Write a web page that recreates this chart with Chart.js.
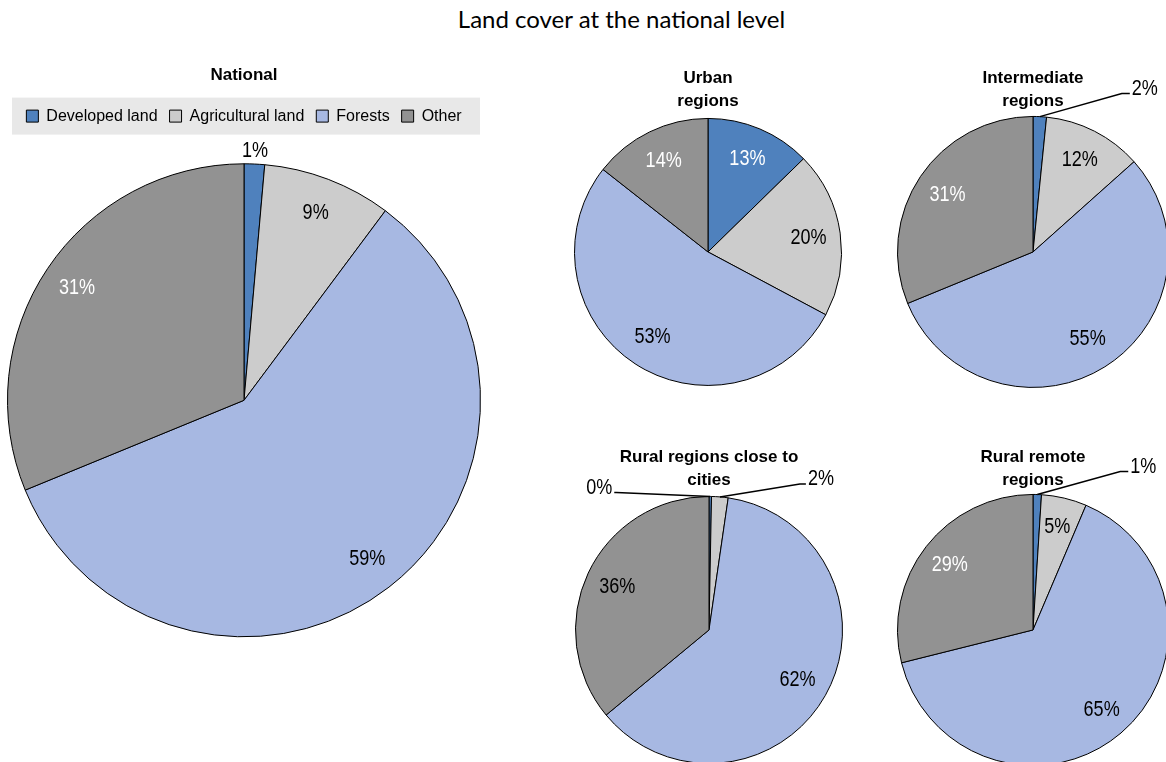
<!DOCTYPE html>
<html>
<head>
<meta charset="utf-8">
<script src="https://cdn.jsdelivr.net/npm/chart.js@4.4.1/dist/chart.umd.min.js"></script>
<style>
  body { margin: 0; width: 1166px; height: 762px; overflow: hidden; background: #fff; position: relative; }
  canvas { position: absolute; }
  #mainTitle { position: absolute; left: 0; top: 5px; width: 1243px; text-align: center;
    font-family: Lato, 'Open Sans', sans-serif; font-size: 24px; line-height: 28px; color: #000; }
</style>
</head>
<body>
<div id="mainTitle">Land cover at the national level</div>
<canvas id="national" width="490" height="762" style="left:0;top:0"></canvas>
<canvas id="urban" width="300" height="400" style="left:558px;top:0"></canvas>
<canvas id="intermediate" width="300" height="400" style="left:883px;top:0"></canvas>
<canvas id="ruralClose" width="300" height="400" style="left:559px;top:380px"></canvas>
<canvas id="ruralRemote" width="300" height="400" style="left:883px;top:380px"></canvas>
<script>
// land cover shares, in %
const categories = ['Developed land', 'Agricultural land', 'Forests', 'Other'];
const nationalValues = [1.4, 8.8, 58.6, 31.2];
const urbanValues = [12.7, 20.1, 52.8, 14.4];
const intermediateValues = [1.6, 11.8, 55.4, 31.2];
const ruralCloseValues = [0.3, 2.0, 61.7, 36.0];
const ruralRemoteValues = [1.0, 5.4, 64.7, 28.9];

const colors = ['#4f81bd', '#cccccc', '#a7b8e2', '#929292'];
const sans = "'Liberation Sans', Arial, sans-serif";

// no narrow font installed, so squeeze the label text a bit
function narrowText(ctx, text, x, y) {
  ctx.save();
  ctx.translate(x, y);
  ctx.scale(0.82, 1);
  ctx.fillText(text, 0, 0);
  ctx.restore();
}

// draws the % labels, inside the slice or outside with a leader line
const sliceLabels = {
  id: 'sliceLabels',
  afterDatasetsDraw(chart, args, opts) {
    const ctx = chart.ctx;
    const meta = chart.getDatasetMeta(0);
    const values = chart.data.datasets[0].data;
    ctx.save();
    ctx.font = '22px ' + sans;
    ctx.textBaseline = 'middle';
    meta.data.forEach((arc, i) => {
      const text = Math.round(values[i]) + '%';
      const mid = (arc.startAngle + arc.endAngle) / 2;
      const out = (opts.outside || []).find(o => o.index === i);
      if (out) {
        ctx.fillStyle = '#000';
        const ex = arc.x + Math.cos(mid) * arc.outerRadius;
        const ey = arc.y + Math.sin(mid) * arc.outerRadius;
        if (!out.leader) {
          ctx.textAlign = 'center';
          const r = arc.outerRadius + out.gap;
          narrowText(ctx, text, arc.x + Math.cos(mid) * r, arc.y + Math.sin(mid) * r);
          return;
        }
        const kx = ex + out.dx, ky = ey + out.dy;
        const hx = kx + out.h;
        ctx.strokeStyle = '#000';
        ctx.lineWidth = 1.5;
        ctx.beginPath();
        ctx.moveTo(ex, ey);
        ctx.lineTo(kx, ky);
        ctx.lineTo(hx, ky);
        ctx.stroke();
        ctx.textAlign = out.h >= 0 ? 'left' : 'right';
        narrowText(ctx, text, hx + (out.h >= 0 ? 2 : -2), ky - 5);
      } else if (opts.colors[i]) {
        const r = arc.outerRadius * opts.inset;
        ctx.fillStyle = opts.colors[i];
        ctx.textAlign = 'center';
        narrowText(ctx, text, arc.x + Math.cos(mid) * r, arc.y + Math.sin(mid) * r);
      }
    });
    ctx.restore();
  }
};

// grey band behind the legend
const legendBand = {
  id: 'legendBand',
  beforeDraw(chart, args, opts) {
    const box = chart.legend.legendHitBoxes[0];
    if (!box) return;
    const cy = box.top + box.height / 2;
    chart.ctx.save();
    chart.ctx.fillStyle = opts.color;
    chart.ctx.fillRect(opts.left, cy - opts.height / 2, opts.right - opts.left, opts.height);
    chart.ctx.restore();
  }
};

function pieDataset(values) {
  return {
    labels: categories,
    datasets: [{
      data: values,
      backgroundColor: colors,
      borderColor: '#000',
      borderWidth: 1
    }]
  };
}

function makePie(id, values, title, padding, labelOpts) {
  return new Chart(document.getElementById(id), {
    type: 'pie',
    data: pieDataset(values),
    options: {
      responsive: false,
      animation: false,
      layout: { padding: padding },
      plugins: {
        legend: { display: false },
        tooltip: { enabled: false },
        title: {
          display: true,
          text: title,
          color: '#000',
          font: { family: sans, size: 17, weight: 'bold', lineHeight: 1.35 },
          padding: { top: 0, bottom: 0 }
        },
        sliceLabels: labelOpts
      }
    },
    plugins: [sliceLabels]
  });
}

new Chart(document.getElementById('national'), {
  type: 'pie',
  data: pieDataset(nationalValues),
  options: {
    responsive: false,
    animation: false,
    layout: { padding: { top: 64, left: 7, right: 9, bottom: 95.5 } },
    plugins: {
      tooltip: { enabled: false },
      title: {
        display: true,
        text: 'National',
        color: '#000',
        font: { family: sans, size: 17, weight: 'bold', lineHeight: 1.3 },
        padding: { top: 0, bottom: 10 }
      },
      legend: {
        position: 'top',
        labels: {
          color: '#000',
          font: { family: sans, size: 16 },
          boxWidth: 12,
          boxHeight: 12,
          padding: 12
        }
      },
      legendBand: { color: '#e8e8e8', left: 12, right: 480, height: 37 },
      sliceLabels: {
        inset: 0.85,
        colors: [null, '#000', '#000', '#fff'],
        outside: [{ index: 0, leader: false, gap: 13 }]
      }
    }
  },
  plugins: [legendBand, sliceLabels]
});

makePie('urban', urbanValues, ['Urban', 'regions'],
  { top: 67, left: 16, right: 16, bottom: 9 },
  { inset: 0.76, colors: ['#fff', '#000', '#000', '#fff'] });

makePie('intermediate', intermediateValues, ['Intermediate', 'regions'],
  { top: 67, left: 14, right: 14, bottom: 9 },
  { inset: 0.76, colors: [null, '#000', '#000', '#fff'],
    outside: [{ index: 0, leader: true, dx: 82, dy: -23, h: 8 }] });

makePie('ruralClose', ruralCloseValues, ['Rural regions close to', 'cities'],
  { top: 65.5, left: 16, right: 16, bottom: 11.5 },
  { inset: 0.76, colors: [null, null, '#000', '#000'],
    outside: [{ index: 0, leader: true, dx: -94, dy: -4, h: -2 },
              { index: 1, leader: true, dx: 80, dy: -13, h: 6 }] });

makePie('ruralRemote', ruralRemoteValues, ['Rural remote', 'regions'],
  { top: 65.5, left: 14, right: 14, bottom: 11.5 },
  { inset: 0.78, colors: [null, '#000', '#000', '#fff'],
    outside: [{ index: 0, leader: true, dx: 83, dy: -23, h: 8 }] });
</script>
</body>
</html>
